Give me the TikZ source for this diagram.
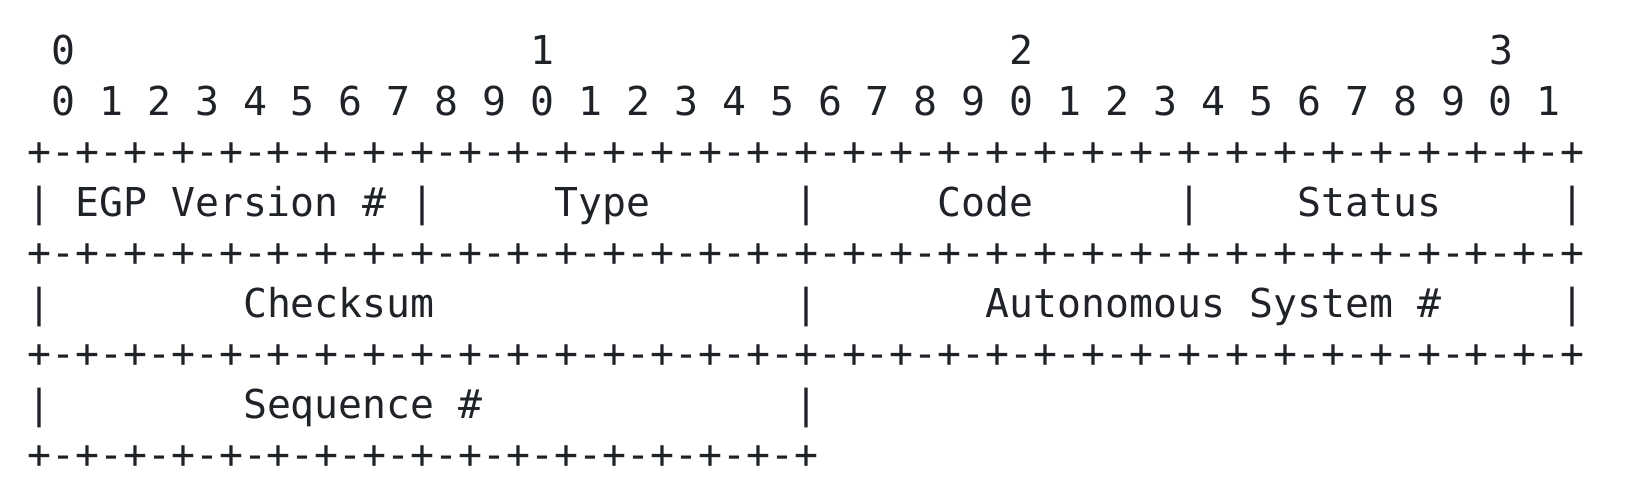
\documentclass[tikz,border=0pt]{standalone}
\usepackage{fontspec}
\setmonofont{DejaVu Sans Mono}
\definecolor{asciitext}{HTML}{1F2328}
% blank columns of the monospace grid
\newcommand{\pad}[1]{\hskip#1\fontcharwd\font`0\relax}
\tikzset{
    bitrow/.style={anchor=base west,inner sep=0pt,text=asciitext,font=\ttfamily\fontsize{19.9}{24}\selectfont}
}
\begin{document}
\begin{tikzpicture}[x=1pt,y=1pt]
    \useasboundingbox (0,0) rectangle (825,-245.5);
    \node[bitrow] (tens) at (13.5,-32.5) {\pad{1}0\pad{19}1\pad{19}2\pad{19}3};
    \node[bitrow] (ones) at (13.5,-57.75) {\pad{1}0 1 2 3 4 5 6 7 8 9 0 1 2 3 4 5 6 7 8 9 0 1 2 3 4 5 6 7 8 9 0 1};
    \node[bitrow] (rulea) at (13.5,-83) {+-+-+-+-+-+-+-+-+-+-+-+-+-+-+-+-+-+-+-+-+-+-+-+-+-+-+-+-+-+-+-+-+};
    \node[bitrow] (wordone) at (13.5,-108.25) {|\pad{1}EGP Version \#\pad{1}|\pad{5}Type\pad{6}|\pad{5}Code\pad{6}|\pad{4}Status\pad{5}|};
    \node[bitrow] (ruleb) at (13.5,-133.5) {+-+-+-+-+-+-+-+-+-+-+-+-+-+-+-+-+-+-+-+-+-+-+-+-+-+-+-+-+-+-+-+-+};
    \node[bitrow] (wordtwo) at (13.5,-158.75) {|\pad{8}Checksum\pad{15}|\pad{7}Autonomous System \#\pad{5}|};
    \node[bitrow] (rulec) at (13.5,-184) {+-+-+-+-+-+-+-+-+-+-+-+-+-+-+-+-+-+-+-+-+-+-+-+-+-+-+-+-+-+-+-+-+};
    \node[bitrow] (wordthree) at (13.5,-209.25) {|\pad{8}Sequence \#\pad{13}|};
    \node[bitrow] (ruled) at (13.5,-234.5) {+-+-+-+-+-+-+-+-+-+-+-+-+-+-+-+-+};
\end{tikzpicture}
\end{document}
